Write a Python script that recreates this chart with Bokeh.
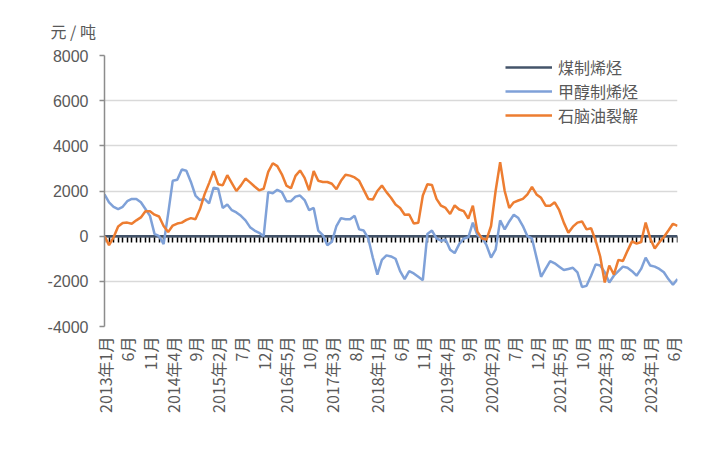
import math
from bokeh.plotting import figure
from bokeh.models import Range1d, FixedTicker, LinearAxis, Legend, LegendItem
from bokeh.embed import file_html
from bokeh.resources import INLINE

# ---- data -------------------------------------------------------------
months = [f"{y}-{m:02d}" for y in range(2013, 2024) for m in range(1, 13)][:127]

tick_labels = ["2013年1月", "6月", "11月", "2014年4月", "9月", "2015年2月", "7月", "12月",
               "2016年5月", "10月", "2017年3月", "8月", "2018年1月", "6月", "11月",
               "2019年4月", "9月", "2020年2月", "7月", "12月", "2021年5月", "10月",
               "2022年3月", "8月", "2023年1月", "6月"]
tick_months = ["2013-01", "2013-06", "2013-11", "2014-04", "2014-09", "2015-02", "2015-07",
               "2015-12", "2016-05", "2016-10", "2017-03", "2017-08", "2018-01", "2018-06",
               "2018-11", "2019-04", "2019-09", "2020-02", "2020-07", "2020-12", "2021-05",
               "2021-10", "2022-03", "2022-08", "2023-01", "2023-06"]

# 煤制烯烃 (coal to olefins)
coal = [0, 0, 0, 0, 0, 0, 0, 0, 0, 0, 0, 0,
        0, 0, 0, 0, 0, 0, 0, 0, 0, 0, 0, 0,
        0, 0, 0, 0, 0, 0, 0, 0, 0, 0, 0, 0,
        0, 0, 0, 0, 0, 0, 0, 0, 0, 0, 0, 0,
        0, 0, 0, 0, 0, 0, 0, 0, 0, 0, 0, 0,
        0, 0, 0, 0, 0, 0, 0, 0, 0, 0, 0, 0,
        0, 0, 0, 0, 0, 0, 0, 0, 0, 0, 0, 0,
        0, 0, 0, 0, 0, 0, 0, 0, 0, 0, 0, 0,
        0, 0, 0, 0, 0, 0, 0, 0, 0, 0, 0, 0,
        0, 0, 0, 0, 0, 0, 0, 0, 0, 0, 0, 0,
        0, 0, 0, 0, 0, 0, 0]

# 甲醇制烯烃 (MTO)
mto = [1850, 1500, 1300, 1200, 1300, 1550, 1650, 1650, 1500, 1200, 900, 100,
       0, -350, 1000, 2450, 2500, 2950, 2900, 2400, 1800, 1600, 1650, 1450,
       2150, 2100, 1250, 1400, 1150, 1050, 900, 700, 400, 250, 150, 0,
       1950, 1900, 2050, 1950, 1550, 1550, 1750, 1800, 1600, 1150, 1250, 250,
       50, -400, -250, 450, 800, 750, 750, 900, 300, 250, -100, -950,
       -1700, -1050, -850, -900, -1000, -1550, -1900, -1550, -1650, -1800, -1950, 100,
       250, -100, -200, -150, -600, -750, -350, -100, -50, 600, 50, -50,
       -400, -950, -600, 700, 300, 650, 950, 800, 450, 0, -100, -950,
       -1800, -1450, -1100, -1200, -1350, -1500, -1450, -1400, -1600, -2250, -2200, -1750,
       -1250, -1300, -1600, -2050, -1750, -1550, -1350, -1400, -1550, -1750, -1450, -950,
       -1300, -1350, -1450, -1600, -1900, -2150, -1900]

# 石脑油裂解 (naphtha cracking)
naphtha = [0, -400, -50, 430, 580, 600, 550, 700, 830, 1100, 1100, 950,
           870, 450, 180, 470, 560, 600, 720, 800, 750, 1200, 1850, 2350,
           2880, 2300, 2250, 2700, 2350, 2000, 2250, 2550, 2380, 2200, 2030, 2100,
           2850, 3230, 3100, 2740, 2240, 2120, 2670, 2910, 2580, 2030, 2880, 2450,
           2400, 2400, 2320, 2080, 2450, 2720, 2680, 2600, 2450, 2050, 1650, 1620,
           2000, 2240, 1950, 1700, 1400, 1250, 950, 960, 560, 590, 1800, 2300,
           2270, 1650, 1350, 1250, 980, 1360, 1180, 1110, 780, 1350, 200, -100,
           -150, 450, 2000, 3280, 2000, 1250, 1500, 1580, 1650, 1850, 2180, 1850,
           1700, 1350, 1350, 1500, 1150, 600, 150, 420, 600, 650, 300, 350,
           -200, -900, -2050, -1300, -1700, -1050, -1100, -650, -230, -330, -260, 600,
           -100, -550, -270, -40, 250, 550, 450]

y_ticks = [-4000, -2000, 0, 2000, 4000, 6000, 8000]
y_tick_labels = ["-4000", "-2000", "0", "2000", "4000", "6000", "8000"]

# ---- figure -----------------------------------------------------------
x = list(range(len(months)))
pos = {m: i for i, m in enumerate(months)}
tick_idx = [pos[m] for m in tick_months]

GRAY_TXT = "#595959"
CJK = "Noto Sans CJK SC"

p = figure(width=720, height=442, output_backend="svg", toolbar_location=None,
           x_range=Range1d(0, len(months) - 1), y_range=Range1d(-4000, 8000),
           x_axis_location=None, y_axis_location=None,
           min_border_left=104, min_border_right=43, min_border_top=55, min_border_bottom=116)
p.outline_line_color = None
p.background_fill_color = "white"
p.border_fill_color = "white"

# unit title
p.title.text = "元 / 吨"
p.title.align = "left"
p.title.offset = -54
p.title.standoff = 25
p.title.text_font = CJK
p.title.text_font_size = "16px"
p.title.text_font_style = "normal"
p.title.text_color = GRAY_TXT

# y axis
yax = LinearAxis(ticker=FixedTicker(ticks=y_ticks))
yax.major_label_overrides = {v: s for v, s in zip(y_ticks, y_tick_labels)}
yax.axis_line_color = "#8C8C8C"
yax.axis_line_width = 1.5
yax.major_tick_line_color = "#8C8C8C"
yax.major_tick_line_width = 1.5
yax.major_tick_in = 0
yax.major_tick_out = 5
yax.minor_tick_line_color = None
yax.major_label_standoff = 11
yax.major_label_text_font = "Liberation Sans"
yax.major_label_text_font_size = "16px"
yax.major_label_text_color = GRAY_TXT
p.add_layout(yax, "left")

p.xgrid.visible = False
p.ygrid.ticker = FixedTicker(ticks=y_ticks)
p.ygrid.grid_line_color = "#D9D9D9"
p.ygrid.grid_line_width = 1.5

# month ticks at the zero line
zax = LinearAxis(ticker=FixedTicker(ticks=x), fixed_location=0)
zax.axis_line_color = "black"
zax.axis_line_width = 1.5
zax.major_tick_line_color = "black"
zax.major_tick_line_width = 1.5
zax.major_tick_in = 0
zax.major_tick_out = 6
zax.minor_tick_line_color = None
zax.major_label_text_font_size = "0px"
zax.major_label_text_alpha = 0
zax.level = "underlay"
p.add_layout(zax, "below")

# category labels at the bottom
xax = LinearAxis(ticker=FixedTicker(ticks=tick_idx))
xax.major_label_overrides = {i: lab for i, lab in zip(tick_idx, tick_labels)}
xax.major_label_orientation = math.pi / 2
xax.axis_line_color = None
xax.major_tick_line_color = None
xax.minor_tick_line_color = None
xax.major_label_standoff = 4
xax.major_label_text_font = CJK
xax.major_label_text_font_size = "16px"
xax.major_label_text_color = GRAY_TXT
p.add_layout(xax, "below")

r_coal = p.line(x, coal, line_color="#44546A", line_width=2.5)
r_mto = p.line(x, mto, line_color="#7FA1D8", line_width=2.5)
r_nap = p.line(x, naphtha, line_color="#ED7D31", line_width=2.5)

legend = Legend(items=[LegendItem(label="煤制烯烃", renderers=[r_coal]),
                       LegendItem(label="甲醇制烯烃", renderers=[r_mto]),
                       LegendItem(label="石脑油裂解", renderers=[r_nap])],
                location=(401, 199))
legend.border_line_color = None
legend.background_fill_alpha = 0
legend.padding = 0
legend.margin = 0
legend.spacing = 0
legend.glyph_width = 47
legend.glyph_height = 20
legend.label_height = 20
legend.label_standoff = 6
legend.label_text_font = CJK
legend.label_text_font_size = "16px"
legend.label_text_color = GRAY_TXT
p.add_layout(legend)

open("out.html", "w").write(file_html(p, INLINE))
